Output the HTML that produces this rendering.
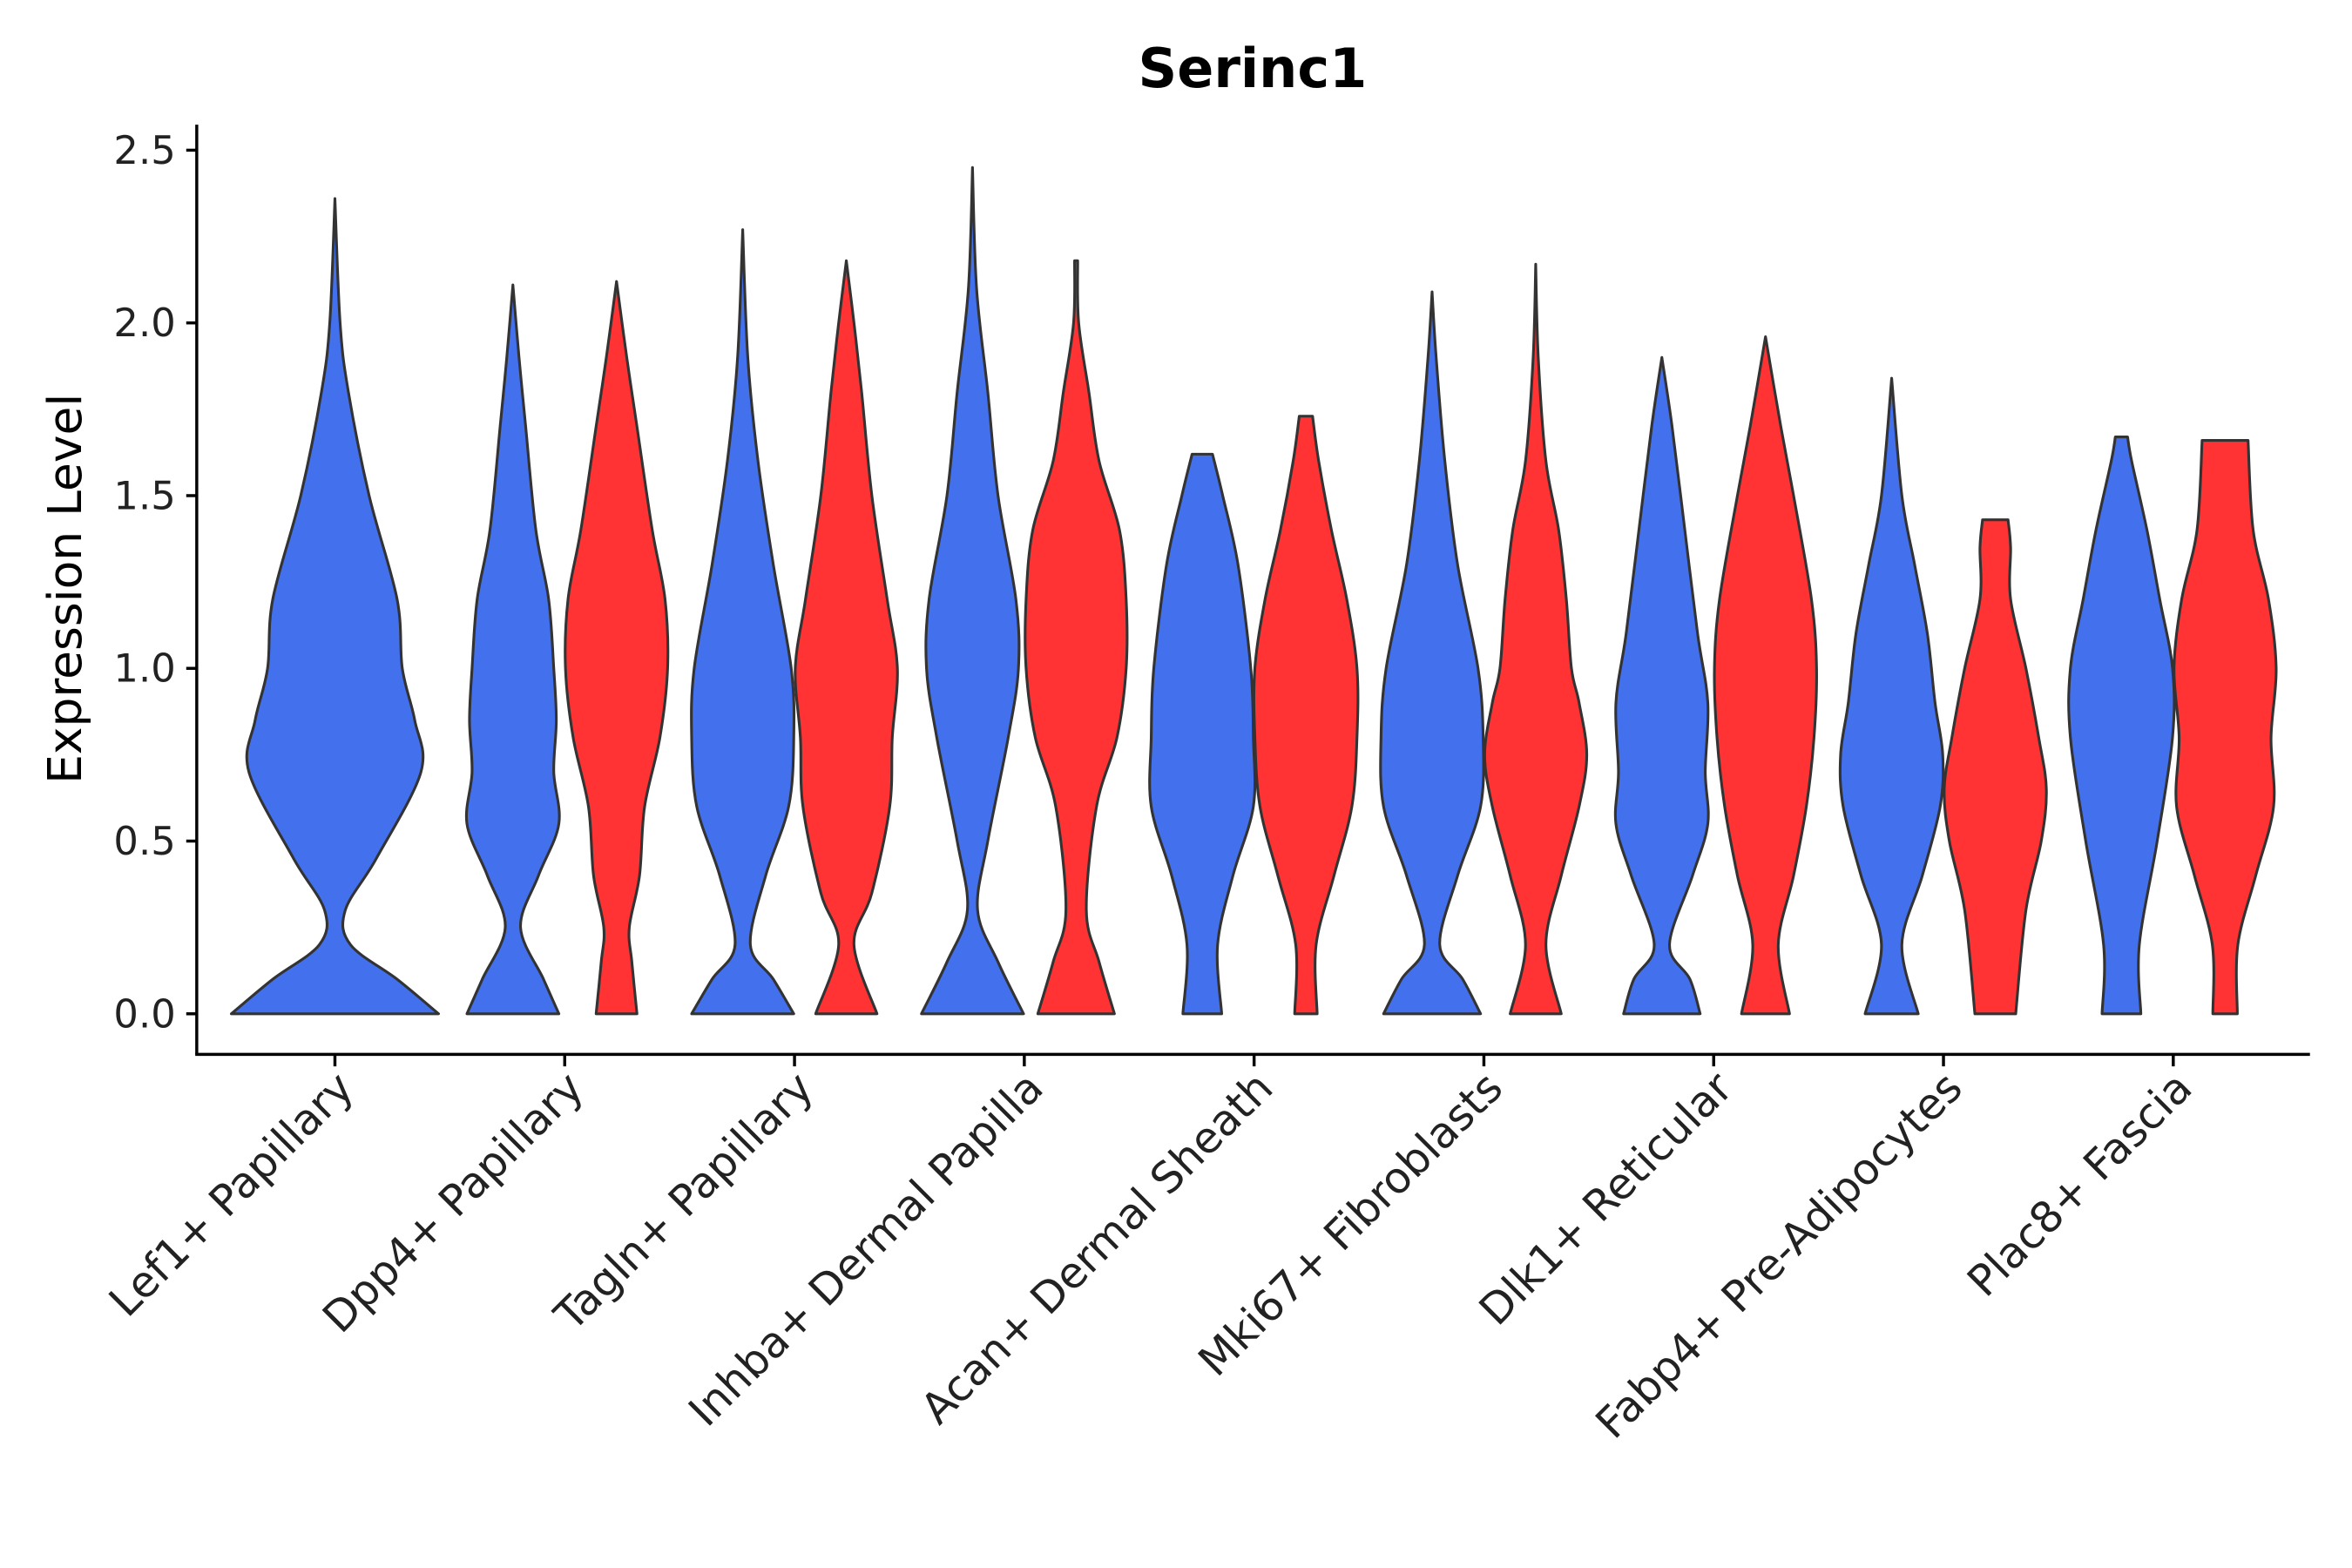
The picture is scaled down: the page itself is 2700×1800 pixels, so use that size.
<!DOCTYPE html>
<html><head><meta charset="utf-8"><style>
html,body{margin:0;padding:0;background:#fff;}
svg{display:block;font-family:"DejaVu Sans","Liberation Sans",sans-serif;}
</style></head><body>
<svg id="chart" width="2700" height="1800" viewBox="0 0 1566 1044" xmlns="http://www.w3.org/2000/svg">
<text x="834" y="58" text-anchor="middle" font-size="36" font-weight="bold" fill="#000">Serinc1</text>
<text transform="translate(54,392) rotate(-90)" text-anchor="middle" font-size="31" fill="#000">Expression Level</text>
<g id="plot"></g>
</svg>
<script>
const categories = ["Lef1+ Papillary","Dpp4+ Papillary","Tagln+ Papillary","Inhba+ Dermal Papilla","Acan+ Dermal Sheath","Mki67+ Fibroblasts","Dlk1+ Reticular","Fabp4+ Pre-Adipocytes","Plac8+ Fascia"];
const yTicks = [0,0.5,1.0,1.5,2.0,2.5];
const yTickLabels = ["0.0","0.5","1.0","1.5","2.0","2.5"];
const lef1 = [[0,1],[0.1,0.6],[0.2,0.15],[0.3,0.1],[0.45,0.4],[0.7,0.83],[0.85,0.77],[1.0,0.65],[1.2,0.6],[1.5,0.33],[1.8,0.13],[2.0,0.05],[2.36,0]];
const dpp4Blue = [[0,0.9],[0.1,0.6],[0.25,0.15],[0.4,0.5],[0.55,0.9],[0.7,0.8],[0.85,0.85],[1.0,0.8],[1.2,0.7],[1.4,0.45],[1.7,0.25],[1.9,0.12],[2.11,0]];
const dpp4Red = [[0,0.4],[0.15,0.3],[0.25,0.25],[0.4,0.45],[0.6,0.55],[0.8,0.85],[1.0,1.0],[1.2,0.95],[1.4,0.7],[1.7,0.4],[1.9,0.2],[2.12,0]];
const taglnBlue = [[0,1.0],[0.1,0.6],[0.2,0.15],[0.4,0.45],[0.6,0.9],[0.8,1.0],[1.0,0.95],[1.3,0.6],[1.6,0.3],[1.9,0.1],[2.27,0]];
const taglnRed = [[0,0.6],[0.2,0.15],[0.35,0.5],[0.6,0.85],[0.8,0.9],[1.0,1.0],[1.2,0.8],[1.5,0.5],[1.8,0.3],[2.0,0.15],[2.18,0]];
const inhbaBlue = [[0,1.0],[0.15,0.5],[0.3,0.1],[0.5,0.3],[0.8,0.7],[1.0,0.9],[1.2,0.85],[1.5,0.5],[1.8,0.3],[2.1,0.08],[2.45,0]];
const inhbaRed = [[0,0.75],[0.15,0.45],[0.3,0.2],[0.6,0.4],[0.8,0.8],[1.0,0.98],[1.2,0.98],[1.4,0.85],[1.6,0.45],[1.8,0.25],[2.0,0.05],[2.18,0.03]];
const acanBlue = [[0,0.38],[0.2,0.3],[0.4,0.6],[0.6,1.0],[0.8,1.0],[1.0,0.95],[1.3,0.7],[1.5,0.4],[1.62,0.2]];
const acanRed = [[0,0.22],[0.2,0.2],[0.4,0.55],[0.6,0.9],[0.8,1.0],[1.0,1.0],[1.2,0.8],[1.4,0.5],[1.6,0.25],[1.73,0.13]];
const mki67Blue = [[0,0.95],[0.1,0.6],[0.2,0.15],[0.4,0.5],[0.6,0.95],[0.8,1.0],[1.0,0.9],[1.3,0.5],[1.6,0.25],[1.9,0.08],[2.09,0]];
const mki67Red = [[0,0.5],[0.2,0.2],[0.4,0.5],[0.6,0.85],[0.75,1.0],[0.9,0.85],[1.0,0.7],[1.2,0.6],[1.4,0.45],[1.6,0.2],[1.9,0.05],[2.17,0]];
const dlk1Blue = [[0,0.75],[0.1,0.55],[0.2,0.15],[0.4,0.6],[0.55,0.9],[0.7,0.85],[0.9,0.9],[1.1,0.7],[1.4,0.45],[1.7,0.2],[1.9,0]];
const dlk1Red = [[0,0.47],[0.2,0.25],[0.4,0.55],[0.6,0.8],[0.8,0.95],[1.0,1.0],[1.2,0.9],[1.5,0.55],[1.7,0.3],[1.96,0]];
const fabp4Blue = [[0,0.52],[0.2,0.2],[0.4,0.6],[0.6,0.95],[0.75,1.0],[0.9,0.85],[1.1,0.7],[1.3,0.45],[1.5,0.2],[1.84,0]];
const fabp4Red = [[0,0.4],[0.3,0.6],[0.5,0.9],[0.65,1.0],[0.8,0.85],[1.0,0.6],[1.2,0.3],[1.35,0.3],[1.43,0.25]];
const plac8Blue = [[0,0.38],[0.2,0.35],[0.5,0.7],[0.8,1.0],[1.0,1.0],[1.2,0.75],[1.4,0.5],[1.6,0.2],[1.67,0.12]];
const plac8Red = [[0,0.24],[0.2,0.25],[0.4,0.6],[0.6,0.95],[0.8,0.9],[1.0,1.0],[1.2,0.85],[1.4,0.55],[1.66,0.45]];
const violins = [
 [0,"single",lef1],[1,"blue",dpp4Blue],[1,"red",dpp4Red],[2,"blue",taglnBlue],[2,"red",taglnRed],
 [3,"blue",inhbaBlue],[3,"red",inhbaRed],[4,"blue",acanBlue],[4,"red",acanRed],
 [5,"blue",mki67Blue],[5,"red",mki67Red],[6,"blue",dlk1Blue],[6,"red",dlk1Red],
 [7,"blue",fabp4Blue],[7,"red",fabp4Red],[8,"blue",plac8Blue],[8,"red",plac8Red]
];

const NS="http://www.w3.org/2000/svg";
const g=document.getElementById('plot');
const X0=131, X1=1538, YB=702, YT=83;
const yScale=v=>675-v*230;
const xScale=i=>223+i*153;
function mk(t,a){const e=document.createElementNS(NS,t);for(const k in a)e.setAttribute(k,a[k]);return e;}
function smooth(pts){
  let d="";
  for(let i=0;i<pts.length-1;i++){
    const p0=pts[Math.max(i-1,0)],p1=pts[i],p2=pts[i+1],p3=pts[Math.min(i+2,pts.length-1)];
    const c1=[p1[0]+(p2[0]-p0[0])/6,p1[1]+(p2[1]-p0[1])/6];
    const c2=[p2[0]-(p3[0]-p1[0])/6,p2[1]-(p3[1]-p1[1])/6];
    d+=` C${c1[0].toFixed(2)},${c1[1].toFixed(2)} ${c2[0].toFixed(2)},${c2[1].toFixed(2)} ${p2[0].toFixed(2)},${p2[1].toFixed(2)}`;
  }
  return d;
}
violins.forEach(v=>{
  const [ci,grp,prof]=v;
  const H = grp==="single"?69:34;
  const cx = xScale(ci)+(grp==="blue"?-34.5:grp==="red"?34.5:0);
  const left=prof.map(p=>[cx-p[1]*H,yScale(p[0])]);
  const right=prof.map(p=>[cx+p[1]*H,yScale(p[0])]).reverse();
  let d=`M${left[0][0]},${left[0][1]}`+smooth(left);
  d+=` L${right[0][0]},${right[0][1]}`+smooth(right)+" Z";
  const p=mk('path',{d:d,fill:grp==="red"?"#FF3333":"#4370EC",stroke:"#333","stroke-width":1.8,"stroke-linejoin":"round"});
  
  
  g.appendChild(p);
});
const ya=mk('line',{x1:X0,y1:YT,x2:X0,y2:YB,stroke:"#000","stroke-width":2});
g.appendChild(ya);
const xa=mk('line',{x1:X0-1,y1:YB,x2:X1,y2:YB,stroke:"#000","stroke-width":2});
g.appendChild(xa);
yTicks.forEach((t,i)=>{
  const y=yScale(t);
  const l=mk('line',{x1:X0-7,y1:y,x2:X0,y2:y,stroke:"#000","stroke-width":2});
  g.appendChild(l);
  const tx=mk('text',{x:X0-14,y:y+9,"text-anchor":"end","font-size":26,fill:"#222"});
  tx.textContent=yTickLabels[i];
  g.appendChild(tx);
});
categories.forEach((c,i)=>{
  const x=xScale(i);
  const l=mk('line',{x1:x,y1:YB,x2:x,y2:YB+8,stroke:"#000","stroke-width":2});
  g.appendChild(l);
  const tx=mk('text',{transform:`translate(${x+14},${YB+24}) rotate(-45)`,"text-anchor":"end","font-size":28.5,fill:"#222"});
  tx.textContent=c;
  g.appendChild(tx);
});
</script>
</body></html>
